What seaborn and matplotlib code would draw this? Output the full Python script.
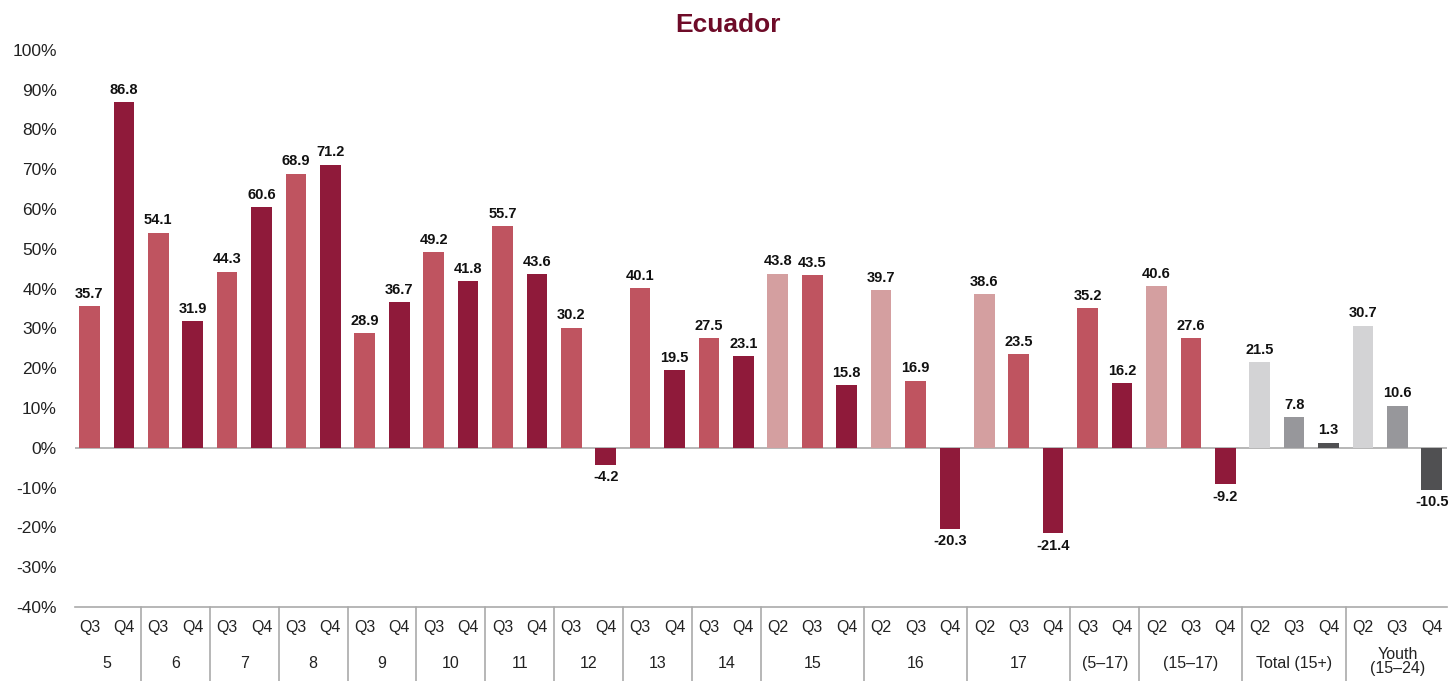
import numpy as np
import pandas as pd
import seaborn as sns
import matplotlib.pyplot as plt
import matplotlib.transforms as mtransforms

# Data
groups = ["5", "6", "7", "8", "9", "10", "11", "12", "13", "14", "15", "16", "17",
          "(5\u201317)", "(15\u201317)", "Total (15+)", "Youth\n(15\u201324)"]
quarters = [["Q3", "Q4"]] * 10 + [["Q2", "Q3", "Q4"]] * 3 + [["Q3", "Q4"]] + [["Q2", "Q3", "Q4"]] * 3
values = [35.7, 86.8, 54.1, 31.9, 44.3, 60.6, 68.9, 71.2, 28.9, 36.7,
          49.2, 41.8, 55.7, 43.6, 30.2, -4.2, 40.1, 19.5, 27.5, 23.1,
          43.8, 43.5, 15.8, 39.7, 16.9, -20.3, 38.6, 23.5, -21.4,
          35.2, 16.2, 40.6, 27.6, -9.2,
          21.5, 7.8, 1.3, 30.7, 10.6, -10.5]

redColors = {"Q2": "#D49FA0", "Q3": "#BF5460", "Q4": "#8F1A3A"}
grayColors = {"Q2": "#D3D3D5", "Q3": "#97979B", "Q4": "#505052"}

rows = []
for groupName, qs in zip(groups, quarters):
    palette = grayColors if groupName.startswith(("Total", "Youth")) else redColors
    for q in qs:
        rows.append({"group": groupName, "quarter": q, "color": palette[q]})
dataFrame = pd.DataFrame(rows)
dataFrame["value"] = values
dataFrame["pos"] = [str(i) for i in range(len(dataFrame))]

sns.set_style("white")
plt.rcParams["font.family"] = ["Liberation Sans", "DejaVu Sans"]

fig = plt.figure(figsize=(14.56, 6.81), dpi=100)
ax = fig.add_axes([0.0515, 0.1087, 0.9425, 0.818])

sns.barplot(data=dataFrame, x="pos", y="value", hue="pos",
            palette=list(dataFrame["color"]), legend=False, width=0.6,
            saturation=1, linewidth=0, ax=ax)

ax.set_ylim(-40, 100)
ax.set_xlim(-0.42, len(dataFrame) - 0.55)
ax.set_yticks(np.arange(-40, 101, 10))
ax.set_yticklabels([f"{t}%" for t in range(-40, 101, 10)], fontsize=12.5, color="#222222")
ax.tick_params(axis="y", length=0, pad=13)
ax.set_xticks([])
ax.set_xlabel("")
ax.set_ylabel("")
for side in ["top", "right", "left"]:
    ax.spines[side].set_visible(False)
ax.spines["bottom"].set_color("#AAAAAA")
ax.spines["bottom"].set_linewidth(1.2)
ax.axhline(0, color="#AAAAAA", linewidth=1.2, zorder=0.5)

# value labels
for i, v in enumerate(dataFrame["value"]):
    offset = 1.3 if v >= 0 else -1.4
    ax.text(i, v + offset, f"{v:.1f}", ha="center", va="bottom" if v >= 0 else "top",
            fontsize=10.5, fontweight="bold", color="#111111")

# category axis: quarter labels, group labels, separators
trans = mtransforms.blended_transform_factory(ax.transData, ax.transAxes)
for i, q in enumerate(dataFrame["quarter"]):
    ax.text(i, -0.036, q, transform=trans, ha="center", va="center", fontsize=11.5, color="#222222")

start = 0
for groupName, qs in zip(groups, quarters):
    end = start + len(qs)
    center = (start + end - 1) / 2
    ax.text(center, -0.102 if "\n" not in groupName else -0.098, groupName, transform=trans,
            ha="center", va="center", fontsize=11.5, color="#222222", linespacing=0.95)
    if end < len(dataFrame):
        ax.plot([end - 0.5, end - 0.5], [0, -0.14], transform=trans, color="#AAAAAA",
                linewidth=1.2, clip_on=False)
    start = end

fig.text(0.5, 0.964, "Ecuador", ha="center", va="center", fontsize=19,
         fontweight="bold", color="#6E0B28")

plt.savefig("out.png", dpi=100)
plt.close()
